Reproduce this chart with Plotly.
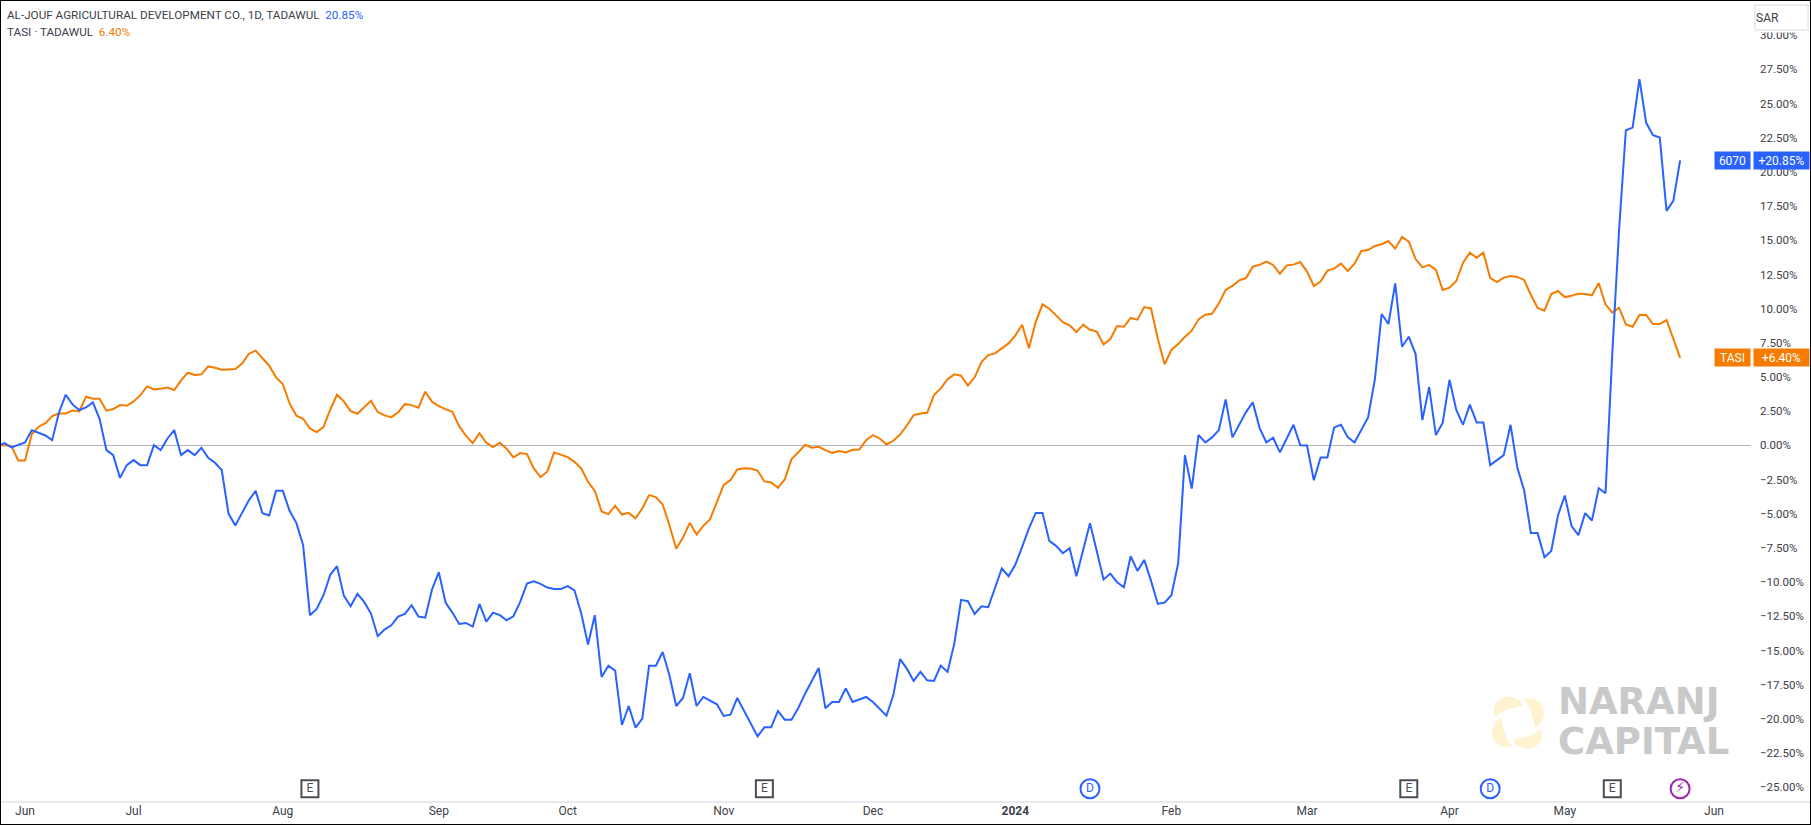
import math

import plotly.graph_objects as go

# Percent change since the start of the window, one value per trading day
jouf_pct = [
    0.0, 0.17, -0.15, 0.02, 0.22, 1.12, 0.95, 0.73, 0.39, 2.39, 3.71, 3.0, 2.59, 2.78, 3.15, 1.93, -0.34,
    -0.71, -2.37, -1.44, -1.07, -1.44, -1.44, 0.02, -0.34, 0.51, 1.12, -0.71, -0.34, -0.71, -0.17, -0.9,
    -1.27, -1.8, -4.98, -5.85, -4.93, -4.0, -3.32, -4.95, -5.12, -3.32, -3.32, -4.78, -5.66, -7.29, -12.41,
    -11.95, -10.95, -9.46, -8.83, -10.98, -11.76, -10.85, -11.44, -12.29, -13.95, -13.46, -13.15, -12.51,
    -12.32, -11.68, -12.51, -12.59, -10.54, -9.27, -11.49, -12.22, -13.05, -12.98, -13.24, -11.59, -12.88,
    -12.22, -12.41, -12.78, -12.49, -11.44, -10.1, -9.93, -10.12, -10.39, -10.49, -10.49, -10.29, -10.59,
    -12.29, -14.56, -12.41, -16.93, -16.1, -16.46, -20.44, -19.05, -20.63, -19.98, -16.1, -16.1, -15.1,
    -16.8, -19.05, -18.46, -16.66, -19.05, -18.39, -18.66, -18.93, -19.78, -19.68, -18.46, -19.37, -20.34,
    -21.27, -20.61, -20.61, -19.41, -20.05, -20.05, -19.2, -18.15, -17.2, -16.27, -19.22, -18.76, -18.76,
    -17.76, -18.76, -18.56, -18.39, -18.76, -19.27, -19.76, -18.27, -15.62, -16.32, -17.22, -16.56, -17.17,
    -17.22, -16.1, -16.56, -14.49, -11.29, -11.39, -12.32, -11.76, -11.83, -10.46, -9.0, -9.56, -8.71,
    -7.41, -6.07, -4.93, -4.93, -6.98, -7.34, -7.88, -7.51, -9.56, -7.54, -5.68, -7.71, -9.8, -9.37, -10.0,
    -10.37, -8.1, -9.17, -8.37, -9.9, -11.59, -11.49, -10.95, -8.63, -0.71, -3.15, 0.76, 0.22, 0.59, 1.12,
    3.37, 0.59, 1.54, 2.44, 3.15, 1.29, 0.22, 0.56, -0.51, 0.51, 1.51, 0.02, 0.0, -2.54, -0.88, -0.88, 1.32,
    1.51, 0.61, 0.22, 1.12, 2.05, 4.83, 9.61, 8.88, 11.85, 7.22, 7.95, 6.68, 1.85, 4.27, 0.76, 1.66, 4.8,
    2.59, 1.51, 2.98, 1.68, 1.68, -1.44, -1.07, -0.71, 1.51, -1.61, -3.27, -6.41, -6.41, -8.17, -7.71, -5.1,
    -3.66, -5.9, -6.56, -4.95, -5.49, -3.12, -3.49, 6.7, 15.75, 23.05, 23.24, 26.78, 23.59, 22.68, 22.51,
    17.15, 17.88, 20.85,
]
tasi_pct = [
    0.0, 0.02, -0.05, -1.1, -1.1, 0.83, 1.37, 1.63, 2.15, 2.34, 2.34, 2.56, 2.49, 3.56, 3.41, 3.41, 2.54,
    2.66, 2.95, 2.9, 3.22, 3.68, 4.32, 4.1, 4.15, 4.24, 4.05, 4.76, 5.32, 5.15, 5.2, 5.78, 5.68, 5.54, 5.56,
    5.59, 5.98, 6.71, 6.93, 6.37, 5.83, 4.98, 4.49, 3.07, 2.17, 1.95, 1.24, 0.98, 1.34, 2.63, 3.71, 3.22,
    2.51, 2.32, 2.83, 3.27, 2.44, 2.2, 2.07, 2.41, 3.02, 2.95, 2.76, 3.93, 3.2, 2.88, 2.66, 2.46, 1.41, 0.71,
    0.17, 0.9, 0.2, -0.12, 0.2, -0.24, -0.88, -0.56, -0.63, -1.68, -2.32, -1.9, -0.51, -0.68, -0.85, -1.2,
    -1.68, -2.66, -3.32, -4.83, -5.02, -4.41, -5.05, -4.93, -5.32, -4.61, -3.63, -3.78, -4.32, -5.83, -7.56,
    -6.73, -5.66, -6.51, -5.88, -5.39, -4.07, -2.88, -2.54, -1.76, -1.66, -1.68, -1.85, -2.63, -2.71, -3.1,
    -2.49, -1.0, -0.51, 0.05, -0.17, -0.1, -0.34, -0.54, -0.41, -0.51, -0.32, -0.29, 0.39, 0.76, 0.51, 0.07,
    0.34, 0.8, 1.46, 2.22, 2.34, 2.39, 3.68, 4.17, 4.85, 5.2, 5.1, 4.37, 4.98, 6.1, 6.61, 6.73, 7.1, 7.46,
    8.05, 8.83, 7.1, 9.02, 10.32, 10.0, 9.51, 9.02, 8.78, 8.29, 8.83, 8.46, 8.32, 7.39, 7.78, 8.73, 8.68,
    9.32, 9.2, 10.12, 10.02, 7.8, 5.93, 6.98, 7.41, 7.95, 8.39, 9.22, 9.56, 9.63, 10.39, 11.37, 11.66, 12.07,
    12.24, 13.07, 13.2, 13.44, 13.2, 12.54, 13.17, 13.22, 13.41, 12.71, 11.66, 11.98, 12.78, 12.93, 13.29,
    12.76, 13.29, 14.22, 14.29, 14.59, 14.71, 14.95, 14.39, 15.24, 14.9, 13.63, 13.02, 13.2, 12.83, 11.37,
    11.54, 12.02, 13.37, 14.1, 13.73, 14.1, 12.24, 11.95, 12.27, 12.39, 12.32, 12.1, 11.0, 10.05, 9.85,
    11.07, 11.29, 10.85, 10.95, 11.1, 11.07, 10.98, 11.88, 10.32, 9.71, 10.07, 8.85, 8.68, 9.54, 9.54, 8.88,
    8.88, 9.17, 7.71, 6.4,
]

month_idx = [4, 20, 42, 65, 84, 107, 129, 150, 173, 193, 214, 231, 253]
month_labels = ["Jun", "Jul", "Aug", "Sep", "Oct", "Nov", "Dec", "<b>2024</b>", "Feb", "Mar", "Apr", "May", "Jun"]

pct_ticks = [30, 27.5, 25, 22.5, 20, 17.5, 15, 12.5, 10, 7.5, 5, 2.5, 0, -2.5, -5, -7.5, -10, -12.5, -15,
             -17.5, -20, -22.5, -25]
pct_labels = [f"{v:.2f}%".replace("-", "\u2212") for v in pct_ticks]

# Earnings, dividend and split style markers along the bottom
earnings_idx = [46, 113, 208, 238]
dividend_idx = [161, 220]
flash_idx = [248]
event_level = -25.1

BLUE = "#2962ff"
ORANGE = "#f57c00"
PURPLE = "#9c27b0"
DARK = "#4a4d59"
TEXT = "#3c404a"
FONT = "Roboto"

W, H = 1811, 825
PLOT_W, PLOT_H = 1751, 802


def petal(turn):
    # one crescent of the logo, in pixels around its centre
    pts = [(-23, 6), (-27, 16), (-20, 26), (-10, 26), (-3, 26), (3, 22), (5, 17), (-3, 15), (-14, 14), (-23, 6)]
    c, s = math.cos(turn), math.sin(turn)
    p = [f"{x * c - y * s:.1f},{x * s + y * c:.1f}" for x, y in pts]
    return f"M {p[0]} C {p[1]} {p[2]} {p[3]} C {p[4]} {p[5]} {p[6]} C {p[7]} {p[8]} {p[9]} Z"


def event_trace(idx, label, color, symbol, size, text_font=FONT, text_size=12):
    return go.Scatter(
        x=idx, y=[event_level] * len(idx), mode="markers+text", text=[label] * len(idx),
        textposition="middle center", textfont=dict(family=text_font, size=text_size, color=color),
        marker=dict(symbol=symbol, size=size, color="white", line=dict(color=color, width=2)),
        showlegend=False, hoverinfo="skip",
    )


fig = go.Figure()
fig.add_trace(go.Scatter(x=list(range(len(tasi_pct))), y=tasi_pct, mode="lines", name="TASI",
                         line=dict(color=ORANGE, width=2)))
fig.add_trace(go.Scatter(x=list(range(len(jouf_pct))), y=jouf_pct, mode="lines", name="6070",
                         line=dict(color=BLUE, width=2)))
fig.add_trace(event_trace(earnings_idx, "E", DARK, "square", 17))
fig.add_trace(event_trace(dividend_idx, "D", BLUE, "circle", 19))
fig.add_trace(event_trace(flash_idx, "\u26a1", PURPLE, "circle", 19, "DejaVu Sans", 14))

shapes = [
    # axis rule runs on under the price scale
    dict(type="line", xref="paper", yref="paper", x0=0, x1=W / PLOT_W, y0=0, y1=0,
         line=dict(color="#e0e3eb", width=1.5)),
    # white mask clips the top tick label, as the SAR button does
    dict(type="rect", xref="paper", yref="paper", x0=1753 / PLOT_W, x1=1809 / PLOT_W,
         y0=1 - 32.5 / PLOT_H, y1=1 - 2 / PLOT_H, fillcolor="white", line=dict(width=0)),
    dict(type="rect", xref="paper", yref="paper", x0=1755 / PLOT_W, x1=1808 / PLOT_W,
         y0=1 - 30 / PLOT_H, y1=1 - 5 / PLOT_H, fillcolor="white", line=dict(color="#e6e7ee", width=1.5)),
    # outer frame
    dict(type="rect", xref="paper", yref="paper", x0=0, x1=W / PLOT_W, y0=-(H - PLOT_H) / PLOT_H, y1=1,
         line=dict(color="black", width=2)),
]
for k in range(4):
    shapes.append(dict(type="path", xref="paper", yref="paper", xsizemode="pixel", ysizemode="pixel",
                       xanchor=1518 / PLOT_W, yanchor=1 - 722.7 / PLOT_H, path=petal(k * math.pi / 2),
                       fillcolor="#fff2cf", line=dict(width=0), layer="below"))


def head(y, name, value, color):
    return dict(xref="paper", yref="paper", x=5 / PLOT_W, y=1 - y / PLOT_H, xanchor="left", yanchor="middle",
                showarrow=False, align="left", font=dict(family=FONT, size=11.7, color=TEXT),
                text=f"{name}\u00a0\u00a0<span style='color:{color}'>{value}</span>")


def tag(series, label, value, color):
    # two coloured boxes on the price scale, level with the last value
    base = dict(yref="y", y=series[-1], xref="paper", yanchor="middle", showarrow=False, bgcolor=color,
                height=15, font=dict(family=FONT, size=12, color="white"))
    return [
        dict(base, x=1, xanchor="right", text=label, width=33),
        dict(base, x=1 + 1.5 / PLOT_W, xanchor="left", text=value, width=53),
    ]


annotations = [
    head(14.5, "AL-JOUF AGRICULTURAL DEVELOPMENT CO., 1D, TADAWUL", "20.85%", BLUE),
    head(32, "TASI \u00b7 TADAWUL", "6.40%", ORANGE),
    dict(xref="paper", yref="paper", x=1781 / PLOT_W, y=1 - 17.5 / PLOT_H, yanchor="middle", showarrow=False,
         font=dict(family=FONT, size=12, color=TEXT), text="SAR"),
    dict(xref="paper", yref="paper", x=1556 / PLOT_W, y=1 - 701.5 / PLOT_H, xanchor="left", yanchor="middle",
         showarrow=False, font=dict(family="DejaVu Sans", size=37, color="#c9c9c9", weight=700), text="NARANJ"),
    dict(xref="paper", yref="paper", x=1556 / PLOT_W, y=1 - 741.5 / PLOT_H, xanchor="left", yanchor="middle",
         showarrow=False, font=dict(family="DejaVu Sans", size=37, color="#c9c9c9", weight=700), text="CAPITAL"),
]
annotations += tag(jouf_pct, "6070", "+20.85%", BLUE)
annotations += tag(tasi_pct, "TASI", "+6.40%", ORANGE)

fig.update_layout(
    width=W, height=H,
    margin=dict(l=0, r=W - PLOT_W, t=0, b=H - PLOT_H),
    paper_bgcolor="white", plot_bgcolor="white",
    showlegend=False, hovermode=False,
    shapes=shapes, annotations=annotations,
    xaxis=dict(range=[0.311, 258.45], tickmode="array", tickvals=month_idx, ticktext=month_labels,
               showgrid=False, zeroline=False, showline=False, ticks="",
               tickfont=dict(family=FONT, size=12, color=TEXT)),
    yaxis=dict(range=[-26.07, 32.57], side="right", tickmode="array", tickvals=pct_ticks, ticktext=pct_labels,
               showgrid=False, zeroline=True, zerolinecolor="#b2b5be", zerolinewidth=1, showline=False,
               ticks="", ticklabelstandoff=8, tickfont=dict(family=FONT, size=11.5, color=TEXT)),
)

fig.write_html("out.html", config=dict(displayModeBar=False),
               post_script="document.body.style.margin='0';document.body.style.overflow='hidden';")
